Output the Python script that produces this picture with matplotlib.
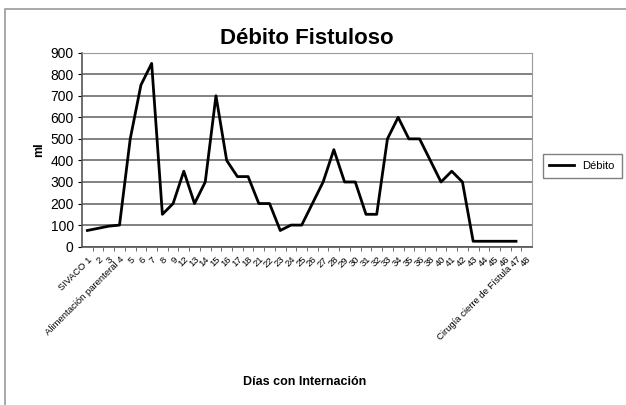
import matplotlib.pyplot as plt
from matplotlib.patches import Rectangle

# Data
dias = ["SIVACO 1", "2", "3", "Alimentación parenteral 4", "5", "6", "7", "8", "9",
        "12", "13", "14", "15", "16", "17", "18", "21", "22", "23", "24", "25",
        "26", "27", "28", "29", "30", "31", "32", "33", "34", "35", "36", "38",
        "40", "41", "42", "43", "44", "45", "46", "Cirugía cierre de Fístula 47", "48"]
debito = [75, 85, 95, 100, 500, 750, 850, 150, 200, 350, 200, 300, 700, 400,
          325, 325, 200, 200, 75, 100, 100, 200, 300, 450, 300, 300, 150, 150,
          500, 600, 500, 500, 400, 300, 350, 300, 25, 25, 25, 25, 25]

plt.rcParams["font.family"] = ["Liberation Sans", "DejaVu Sans"]

fig = plt.figure(figsize=(6.26, 4.05), dpi=100)
ax = fig.add_axes([0.131, 0.391, 0.719, 0.479])

# chart frame
fig.patches.append(Rectangle((5 / 626, -0.1), 1.2, 1 - 9 / 405 + 0.1,
                             transform=fig.transFigure, fill=False,
                             edgecolor="#9a9a9a", linewidth=1.2))

x = list(range(len(debito)))
ax.plot(x, debito, color="black", linewidth=2, label="Débito")

ax.set_xlim(-0.5, len(dias) - 0.5)
ax.set_ylim(0, 900)
ax.set_yticks(range(0, 901, 100))
ax.yaxis.grid(True, color="#777777", linewidth=1.3)
ax.set_axisbelow(True)

ax.set_xticks(range(len(dias)))
ax.set_xticklabels(dias, rotation=45, ha="right", rotation_mode="anchor", fontsize=6.8)
ax.set_xticks([i + 0.5 for i in range(len(dias) - 1)], minor=True)
ax.tick_params(axis="x", which="major", length=0, pad=6)
ax.tick_params(axis="x", which="minor", length=3, color="#555555")
ax.tick_params(axis="y", length=3, labelsize=10, pad=3)

for s in ["top", "right"]:
    ax.spines[s].set_color("#9a9a9a")
for s in ["left", "bottom"]:
    ax.spines[s].set_color("#555555")
    ax.spines[s].set_linewidth(1.2)

ax.set_title("Débito Fistuloso", fontsize=16, fontweight="bold", pad=6)
fig.text(0.062, 0.63, "ml", rotation=90, fontsize=9, fontweight="bold",
         ha="center", va="center")
fig.text(0.487, 0.057, "Días con Internación", fontsize=9, fontweight="bold",
         ha="center", va="center")

leg = fig.legend(loc="center left", bbox_to_anchor=(537 / 626, 1 - 166 / 405),
                 fontsize=8, fancybox=False, edgecolor="#808080",
                 handlelength=2.2, borderpad=0.6, framealpha=1)
leg.get_frame().set_linewidth(1)

fig.savefig("out.png", dpi=100)
